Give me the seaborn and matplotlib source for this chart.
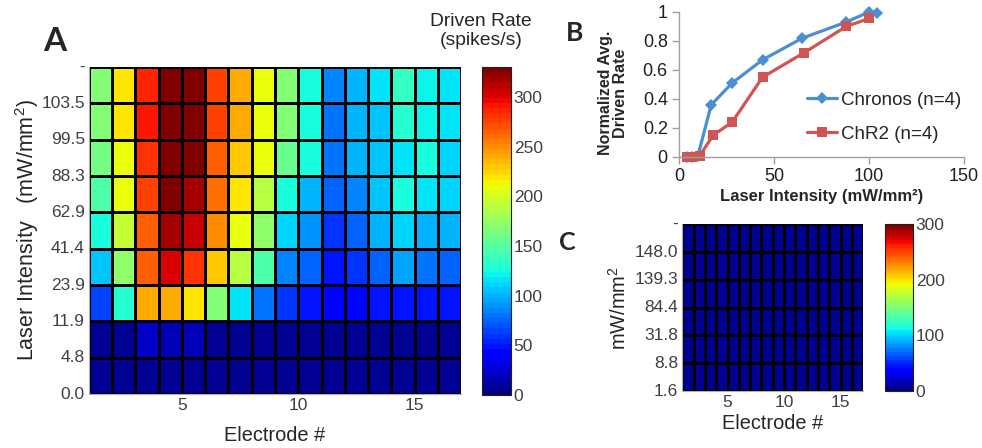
import pandas as pd
import matplotlib
matplotlib.use('Agg')
import matplotlib.pyplot as plt
import seaborn as sns

# Panel A: driven rate (spikes/s) per electrode, rows listed from lowest intensity up
electrodes = list(range(1, 17))
intensity_a = ['0.0', '4.8', '11.9', '23.9', '41.4', '62.9', '88.3', '99.5', '103.5', '-']
rate_a = [
    [7, 8, 8, 9, 9, 7, 7, 7, 7, 7, 7, 7, 7, 7, 7, 7],
    [7, 10, 21, 17, 17, 8, 8, 8, 8, 8, 8, 8, 8, 8, 8, 8],
    [62, 132, 239, 238, 219, 165, 115, 82, 58, 48, 40, 45, 50, 50, 50, 50],
    [107, 174, 268, 300, 281, 231, 186, 148, 87, 74, 51, 58, 76, 97, 82, 76],
    [124, 194, 268, 316, 308, 252, 208, 174, 113, 92, 58, 76, 99, 113, 103, 99],
    [148, 210, 277, 325, 316, 260, 219, 186, 126, 103, 76, 87, 107, 124, 115, 113],
    [162, 211, 282, 325, 328, 268, 231, 208, 155, 124, 82, 99, 108, 115, 124, 113],
    [165, 218, 290, 325, 325, 277, 238, 208, 165, 124, 82, 99, 108, 132, 119, 115],
    [165, 218, 285, 330, 328, 277, 241, 211, 165, 124, 87, 99, 115, 135, 120, 115],
]

# Panel B: normalized average driven rate vs laser intensity
chronos_x = [4, 7, 10, 17, 28, 44, 65, 88, 100, 104]
chronos_y = [0, 0, 0.01, 0.36, 0.51, 0.67, 0.82, 0.93, 1.0, 0.99]
chr2_x = [4, 7, 11, 18, 28, 44, 66, 88, 100]
chr2_y = [0, 0, 0.01, 0.15, 0.24, 0.55, 0.72, 0.90, 0.955]

# Panel C: control, all electrodes silent
intensity_c = ['1.6', '8.8', '31.8', '84.4', '139.3', '148.0', '-']
rate_c = [
    [8, 8, 8, 8, 8, 8, 8, 8, 8, 8, 8, 8, 8, 8, 8, 8],
    [8, 8, 8, 8, 8, 8, 8, 8, 8, 8, 8, 8, 8, 8, 8, 8],
    [8, 8, 8, 8, 8, 8, 8, 8, 8, 8, 8, 8, 8, 8, 8, 8],
    [8, 8, 8, 8, 8, 8, 8, 8, 8, 8, 8, 8, 8, 8, 8, 8],
    [8, 8, 8, 8, 8, 8, 8, 8, 8, 8, 8, 8, 8, 8, 8, 8],
    [8, 8, 8, 8, 8, 8, 8, 8, 8, 8, 8, 8, 8, 8, 8, 8],
]

sns.set_style('white')
plt.rcParams['font.family'] = ['Liberation Sans', 'DejaVu Sans']
plt.rcParams['mathtext.fontset'] = 'custom'
plt.rcParams['mathtext.rm'] = 'Liberation Sans'

jet = plt.get_cmap('jet', 64)
tick_grey = '#404040'


def draw_heatmap(ax, cax, rates, ylabels, vmax, cticks, ylabel, ylabel_size, ylabel_x, xlabel_y):
    df = pd.DataFrame(rates, index=ylabels[:-1], columns=electrodes).iloc[::-1]
    sns.heatmap(df, ax=ax, cbar_ax=cax, cmap=jet, vmin=0, vmax=vmax,
                linewidths=0.85, linecolor='black')
    ax.set_yticks(range(len(ylabels)))
    ax.set_yticklabels(ylabels[::-1], rotation=0, fontsize=12.5, color=tick_grey)
    ax.set_xticks([4, 9, 14])
    ax.set_xticklabels(['5', '10', '15'], rotation=0, fontsize=12.5, color=tick_grey)
    ax.tick_params(length=0, pad=3)
    for side in ['left', 'bottom']:
        ax.spines[side].set_visible(True)
        ax.spines[side].set_color('#b0b0b0')
    ax.set_xlabel('Electrode #', fontsize=14.4)
    ax.set_ylabel(ylabel, fontsize=ylabel_size)
    ax.yaxis.set_label_coords(ylabel_x, 0.5)
    ax.xaxis.set_label_coords(0.5, xlabel_y)
    cb = ax.collections[0].colorbar
    cb.set_ticks(cticks)
    cb.outline.set_linewidth(0.8)
    cb.outline.set_edgecolor('#202020')
    cax.tick_params(direction='in', length=3, width=0.6, left=True, right=True,
                    labelsize=12.5, labelcolor=tick_grey, color='#202020', pad=2)


fig = plt.figure(figsize=(9.82, 4.48), dpi=100)

# Panel A
ax_a = fig.add_axes([0.0906, 0.1205, 0.3789, 0.7299])
cax_a = fig.add_axes([0.4908, 0.1183, 0.0295, 0.7321])
draw_heatmap(ax_a, cax_a, rate_a, intensity_a, 330, [0, 50, 100, 150, 200, 250, 300],
             'Laser Intensity   (mW/mm$^2$)', 15.5, -0.13, -0.097)
fig.text(0.49, 0.93, 'Driven Rate\n(spikes/s)', ha='center', va='center',
         fontsize=13.9, linespacing=1.15)

# Panel B
blue = '#4a8fd4'
red = '#d05552'
ax_b = fig.add_axes([0.6914, 0.6496, 0.2902, 0.3237])
sns.lineplot(x=chronos_x, y=chronos_y, ax=ax_b, color=blue, marker='D', markersize=6,
             linewidth=2.3, markeredgewidth=0, label='Chronos (n=4)', clip_on=False)
sns.lineplot(x=chr2_x, y=chr2_y, ax=ax_b, color=red, marker='s', markersize=7.5,
             linewidth=2.3, markeredgewidth=0, label='ChR2 (n=4)', clip_on=False)
ax_b.set_xlim(0, 150)
ax_b.set_ylim(0, 1)
ax_b.set_xticks([0, 50, 100, 150])
ax_b.set_yticks([0, 0.2, 0.4, 0.6, 0.8, 1])
ax_b.set_yticklabels(['0', '0.2', '0.4', '0.6', '0.8', '1'])
sns.despine(ax=ax_b)
for side in ['left', 'bottom']:
    ax_b.spines[side].set_color('#a0a0a0')
    ax_b.spines[side].set_linewidth(1)
ax_b.tick_params(axis='both', direction='out', length=5, width=1, color='#a0a0a0',
                 labelsize=13, labelcolor='#202020', pad=3,
                 left=True, bottom=True)
ax_b.set_xlabel('Laser Intensity (mW/mm²)', fontsize=12, fontweight='bold')
ax_b.set_ylabel('Normalized Avg.\nDriven Rate', fontsize=11.5, fontweight='bold',
                linespacing=1.0)
ax_b.xaxis.set_label_coords(0.5, -0.22)
ax_b.yaxis.set_label_coords(-0.179, 0.44)
ax_b.legend(loc='center left', bbox_to_anchor=(0.45, 0.276), frameon=False, fontsize=13.5,
            handlelength=1.6, handletextpad=0.2, labelspacing=0.9, borderaxespad=0,
            borderpad=0)

# Panel C
ax_c = fig.add_axes([0.6948, 0.1272, 0.1843, 0.3721])
cax_c = fig.add_axes([0.9012, 0.1272, 0.0285, 0.3721])
draw_heatmap(ax_c, cax_c, rate_c, intensity_c, 300, [0, 100, 200, 300],
             'mW/mm$^2$', 14.4, -0.289, -0.135)

# panel letters
letter_font = ['Lato', 'DejaVu Sans']
fig.text(0.056, 0.907, 'A', fontsize=24, fontweight='bold', family=letter_font,
         ha='center', va='center')
fig.text(0.5855, 0.926, 'B', fontsize=19, fontweight='bold', family=letter_font,
         ha='center', va='center')
fig.text(0.578, 0.458, 'C', fontsize=18, fontweight='bold', family=letter_font,
         ha='center', va='center')

fig.savefig('out.png', dpi=100)
